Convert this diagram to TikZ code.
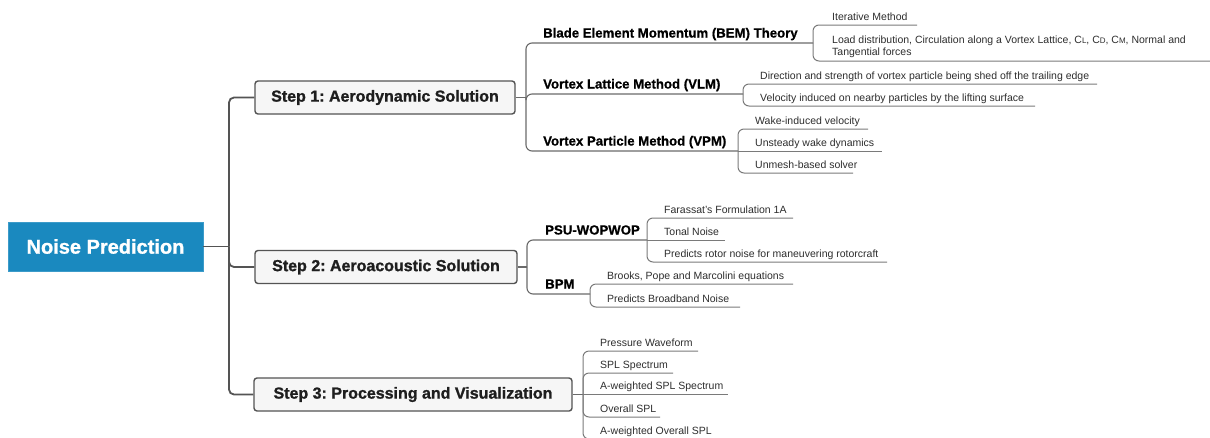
\documentclass[tikz,border=0pt]{standalone}
\usepackage{fontspec}
\setmainfont{Liberation Sans}
\newfontfamily\heavyfont[FakeBold=1.2]{Liberation Sans Bold}
\newfontfamily\semiheavyfont[FakeBold=0.8]{Liberation Sans Bold}
\frenchspacing
\definecolor{rootblue}{HTML}{1A89BF}
\definecolor{trunkgray}{HTML}{545454}
\definecolor{branchgray}{HTML}{6A6A6A}
\definecolor{leafgray}{HTML}{7A7A7A}
\definecolor{boxfill}{HTML}{F6F6F6}
\definecolor{inkdark}{HTML}{1E1E1E}
\definecolor{inkleaf}{HTML}{2E2E2E}
\newcommand{\coef}[1]{C{\fontsize{8}{8}\selectfont #1}}
\begin{document}
\begin{tikzpicture}[x=1pt, y=-1pt,
  rootbox/.style={fill=rootblue, draw=rootblue!85!white, line width=0.6pt,
    minimum width=195pt, minimum height=49pt, inner sep=0pt,
    font=\fontsize{20}{24}\heavyfont, text=white},
  stepbox/.style={fill=boxfill, draw=trunkgray, line width=1.4pt, rounded corners=3pt,
    minimum height=33pt, inner sep=0pt,
    font=\fontsize{16}{19}\heavyfont, text=inkdark},
  trunk/.style={draw=trunkgray, line width=1.8pt, rounded corners=5pt},
  branch/.style={draw=branchgray, line width=1.1pt, rounded corners=6pt},
  leafline/.style={draw=leafgray, line width=1pt, rounded corners=6pt},
  method/.style={anchor=base west, inner sep=0pt,
    font=\fontsize{13.2}{15}\semiheavyfont, text=black},
  leaf/.style={anchor=base west, inner sep=0pt,
    font=\fontsize{10.5}{12}\selectfont, text=inkleaf},
]
\clip (0,0) rectangle (1210,437);
\fill[white] (0,0) rectangle (1210,437);

% ---------- root and the three steps ----------
\node[rootbox] (root) at (105.5,246.5) {Noise Prediction};
\node[stepbox, minimum width=260pt] (s1) at (385,97.5) {Step 1: Aerodynamic Solution};
\node[stepbox, minimum width=262pt] (s2) at (386,267) {Step 2: Aeroacoustic Solution};
\node[stepbox, minimum width=318pt] (s3) at (413,394.5) {Step 3: Processing and Visualization};

\coordinate (j0) at (229,246.5);
\draw[trunk] (root.east) -- (j0);
\draw[trunk] (j0) |- (s1.west);
\draw[trunk] (j0) |- (s2.west);
\draw[trunk] (j0) |- (s3.west);

% ---------- Step 1 ----------
\coordinate (j1) at (526,97.5);
\coordinate (bem) at (813,43);
\coordinate (vlm) at (743,94);
\coordinate (vpm) at (738,151);
\draw[branch] (s1.east) -- (j1);
\draw[branch] (j1) |- (bem);
\draw[branch] (j1) |- (vlm);
\draw[branch] (j1) |- (vpm);
\node[method] (bemT) at (543,37.5) {Blade Element Momentum (BEM) Theory};
\node[method] (vlmT) at (543,88.5) {Vortex Lattice Method (VLM)};
\node[method] (vpmT) at (543,145.5) {Vortex Particle Method (VPM)};

% BEM leaves
\coordinate (bem1) at (917,25);
\coordinate (bem2) at (1212,61);
\draw[leafline] (bem) |- (bem1);
\draw[leafline] (bem) |- (bem2);
\node[leaf] (bem1T) at (832,20) {Iterative Method};
\node[leaf, anchor=south west, align=left] (bem2T) at (832,57.5)
  {Load distribution, Circulation along a Vortex Lattice, \coef{L}, \coef{D}, \coef{M}, Normal and\\Tangential forces};

% VLM leaves
\coordinate (vlm1) at (1097,84);
\coordinate (vlm2) at (1035,106);
\draw[leafline] (vlm) |- (vlm1);
\draw[leafline] (vlm) |- (vlm2);
\node[leaf] (vlm1T) at (760,79) {Direction and strength of vortex particle being shed off the trailing edge};
\node[leaf] (vlm2T) at (760,101) {Velocity induced on nearby particles by the lifting surface};

% VPM leaves
\coordinate (vpm1) at (868,129);
\coordinate (vpm2) at (882,151);
\coordinate (vpm3) at (853,173);
\draw[leafline] (vpm) |- (vpm1);
\draw[leafline] (vpm) -- (vpm2);
\draw[leafline] (vpm) |- (vpm3);
\node[leaf] (vpm1T) at (755,124) {Wake-induced velocity};
\node[leaf] (vpm2T) at (755,146) {Unsteady wake dynamics};
\node[leaf] (vpm3T) at (755,168) {Unmesh-based solver};

% ---------- Step 2 ----------
\coordinate (j2) at (527,267);
\coordinate (psu) at (647,240);
\coordinate (bpm) at (590,294);
\draw[branch] (s2.east) -- (j2);
\draw[branch] (j2) |- (psu);
\draw[branch] (j2) |- (bpm);
\node[method] (psuT) at (545,234.5) {PSU-WOPWOP};
\node[method] (bpmT) at (545,288.5) {BPM};

% PSU-WOPWOP leaves
\coordinate (psu1) at (793,218);
\coordinate (psu2) at (725,240);
\coordinate (psu3) at (887,262);
\draw[leafline] (psu) |- (psu1);
\draw[leafline] (psu) -- (psu2);
\draw[leafline] (psu) |- (psu3);
\node[leaf] (psu1T) at (664,213) {Farassat's Formulation 1A};
\node[leaf] (psu2T) at (664,235) {Tonal Noise};
\node[leaf] (psu3T) at (664,257) {Predicts rotor noise for maneuvering rotorcraft};

% BPM leaves
\coordinate (bpm1) at (793,284);
\coordinate (bpm2) at (740,307);
\draw[leafline] (bpm) |- (bpm1);
\draw[leafline] (bpm) |- (bpm2);
\node[leaf] (bpm1T) at (607,279) {Brooks, Pope and Marcolini equations};
\node[leaf] (bpm2T) at (607,302) {Predicts Broadband Noise};

% ---------- Step 3 ----------
\coordinate (j3) at (583,394.5);
\coordinate (p1) at (698,351);
\coordinate (p2) at (673,373);
\coordinate (p3) at (728,394.5);
\coordinate (p4) at (660,417);
\coordinate (p5) at (720,439);
\draw[branch] (s3.east) -- (j3);
\draw[leafline] (j3) |- (p1);
\draw[leafline] (j3) |- (p2);
\draw[leafline] (j3) -- (p3);
\draw[leafline] (j3) |- (p4);
\draw[leafline] (j3) |- (p5);
\node[leaf] (p1T) at (600,346) {Pressure Waveform};
\node[leaf] (p2T) at (600,368) {SPL Spectrum};
\node[leaf] (p3T) at (600,389.5) {A-weighted SPL Spectrum};
\node[leaf] (p4T) at (600,412) {Overall SPL};
\node[leaf] (p5T) at (600,434) {A-weighted Overall SPL};
\end{tikzpicture}
\end{document}
